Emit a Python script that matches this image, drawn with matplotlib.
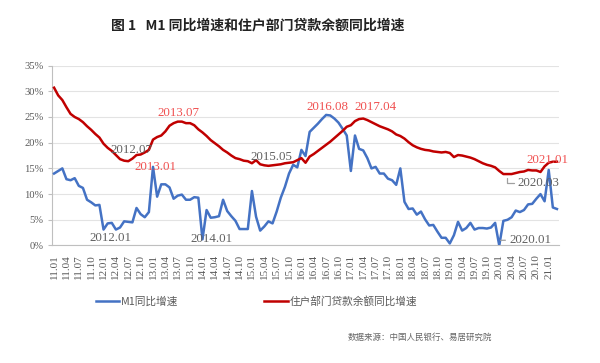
import matplotlib
matplotlib.use("Agg")
import matplotlib.pyplot as plt
from matplotlib.lines import Line2D

# monthly, 2011.01 - 2021.03
M1_YOY = [14.0, 14.5, 15.0, 12.9, 12.7, 13.1, 11.6, 11.2, 8.9, 8.4, 7.8, 7.9,
          3.1, 4.3, 4.4, 3.1, 3.5, 4.7, 4.6, 4.5, 7.3, 6.1, 5.5, 6.5,
          15.3, 9.5, 11.9, 11.9, 11.3, 9.1, 9.7, 9.9, 8.9, 8.9, 9.4, 9.3,
          1.2, 6.9, 5.4, 5.5, 5.7, 8.9, 6.7, 5.7, 4.8, 3.2, 3.2, 3.2,
          10.6, 5.6, 2.9, 3.7, 4.7, 4.3, 6.6, 9.3, 11.4, 14.0, 15.7, 15.2,
          18.6, 17.4, 22.1, 22.9, 23.7, 24.6, 25.4, 25.3, 24.7, 23.9, 22.7, 21.4,
          14.5, 21.4, 18.8, 18.5, 17.0, 15.0, 15.3, 14.0, 14.0, 13.0, 12.7, 11.8,
          15.0, 8.5, 7.1, 7.2, 6.0, 6.6, 5.1, 3.9, 4.0, 2.7, 1.5, 1.5,
          0.4, 2.0, 4.6, 2.9, 3.4, 4.4, 3.1, 3.4, 3.4, 3.3, 3.5, 4.4,
          0.0, 4.8, 5.0, 5.5, 6.8, 6.5, 6.9, 8.0, 8.1, 9.1, 10.0, 8.6,
          14.7, 7.4, 7.1]

HH_LOAN_YOY = [30.7, 29.2, 28.3, 26.9, 25.6, 25.0, 24.6, 24.0, 23.2, 22.5, 21.7, 21.0,
               19.8, 19.0, 18.4, 17.6, 16.8, 16.5, 16.4, 16.9, 17.6, 17.7, 18.1, 18.6,
               20.6, 21.1, 21.4, 22.2, 23.3, 23.8, 24.1, 24.1, 23.8, 23.8, 23.4, 22.6,
               22.0, 21.3, 20.5, 19.9, 19.3, 18.6, 18.1, 17.5, 17.0, 16.8, 16.5, 16.4,
               16.0, 16.6, 15.8, 15.6, 15.5, 15.6, 15.7, 15.8, 16.0, 16.1, 16.2, 16.6,
               17.0, 16.1, 17.3, 17.8, 18.4, 19.0, 19.6, 20.2, 20.9, 21.6, 22.3, 23.1,
               23.4, 24.2, 24.6, 24.7, 24.4, 24.0, 23.6, 23.2, 22.9, 22.6, 22.2, 21.6,
               21.3, 20.8, 20.1, 19.5, 19.1, 18.8, 18.6, 18.5, 18.3, 18.2, 18.1, 18.2,
               18.0, 17.2, 17.6, 17.5, 17.3, 17.1, 16.8, 16.4, 16.0, 15.7, 15.5, 15.2,
               14.5, 13.9, 13.9, 13.9, 14.1, 14.3, 14.4, 14.7, 14.6, 14.6, 14.3, 15.4,
               16.1, 16.3, 16.3]

MONTHS = [f"{y % 100:02d}.{m:02d}" for y in range(2011, 2022) for m in range(1, 13)][:len(M1_YOY)]
TICK_IDX = list(range(0, len(MONTHS), 3))

SERIES_NAMES = ["M1同比增速", "住户部门贷款余额同比增速"]
BLUE, RED = "#4472C4", "#C00000"
ANN_RED, ANN_GRAY = "#F05050", "#606060"

# (text, x, y, colour) -- label placement
NOTES = [("2012.01", 13.7, 1.5, ANN_GRAY), ("2012.07", 18.8, 18.5, ANN_GRAY),
         ("2013.01", 24.7, 15.3, ANN_RED), ("2013.07", 30.2, 25.7, ANN_RED),
         ("2014.01", 38.1, 1.2, ANN_GRAY), ("2015.05", 52.8, 17.3, ANN_GRAY),
         ("2016.08", 66.4, 26.9, ANN_RED), ("2017.04", 77.9, 26.9, ANN_RED),
         ("2021.01", 119.6, 16.6, ANN_RED)]

CJK = ["Noto Sans CJK SC", "DejaVu Sans"]
SERIF = "Liberation Serif"

fig = plt.figure(figsize=(6, 3.63), dpi=100)
ax = fig.add_axes([0.0867, 0.3237, 0.845, 0.4956])

x = list(range(len(MONTHS)))
ax.plot(x, M1_YOY, color=BLUE, lw=1.8, zorder=3)
ax.plot(x, HH_LOAN_YOY, color=RED, lw=1.8, zorder=3)

ax.set_xlim(-0.5, len(MONTHS) - 0.5)
ax.set_ylim(0, 35)
ax.set_yticks(range(0, 36, 5))
ax.set_yticklabels([f"{v}%" for v in range(0, 36, 5)], fontfamily=SERIF,
                   fontsize=7.6, color="#595959")
ax.set_xticks(TICK_IDX)
ax.set_xticklabels([MONTHS[i] for i in TICK_IDX], rotation=90, fontfamily=SERIF,
                   fontsize=8, color="#595959")
ax.tick_params(axis="x", length=0, pad=6)
ax.tick_params(axis="y", length=3, color="#BFBFBF", pad=3)
ax.grid(axis="y", color="#E3E3E3", lw=0.8)
ax.set_axisbelow(True)
ax.spines[["top", "right"]].set_visible(False)
for s in ("left", "bottom"):
    ax.spines[s].set_color("#BFBFBF")

for txt, tx, ty, c in NOTES:
    ax.text(tx, ty, txt, ha="center", va="center", fontfamily=SERIF,
            fontsize=9.3, color=c, zorder=4)

i03 = MONTHS.index("20.03")
ax.annotate("2020.03", xy=(i03, HH_LOAN_YOY[i03]), xytext=(112.5, 12.1),
            ha="left", va="center", fontfamily=SERIF, fontsize=9.3, color=ANN_GRAY,
            arrowprops=dict(arrowstyle="-", color="#A0A0A0", lw=0.9, shrinkA=1, shrinkB=3,
                            connectionstyle="angle,angleA=0,angleB=90,rad=0"))
i01 = MONTHS.index("20.01")
ax.annotate("2020.01", xy=(i01, M1_YOY[i01] + 1.0), xytext=(110.5, 1.1),
            ha="left", va="center", fontfamily=SERIF, fontsize=9.3, color=ANN_GRAY,
            arrowprops=dict(arrowstyle="-", color="#A0A0A0", lw=0.9, shrinkA=1, shrinkB=1))

fig.text(0.43, 0.931, "图 1   M1 同比增速和住户部门贷款余额同比增速", ha="center", va="center",
         fontfamily=CJK, fontsize=10, fontweight="bold", color="#222222")

handles = [Line2D([], [], color=BLUE, lw=1.8), Line2D([], [], color=RED, lw=1.8)]
fig.legend(handles, SERIES_NAMES, loc="center", bbox_to_anchor=(0.4275, 0.171), ncol=2,
           frameon=False, prop={"family": CJK, "size": 7.7}, labelcolor="#595959",
           handlelength=2.2, handletextpad=0.2, columnspacing=8.0)

fig.text(0.82, 0.072, "数据来源：中国人民银行、易居研究院", ha="right", va="center",
         fontfamily=CJK, fontsize=6.1, color="#666666")

fig.savefig("out.png", dpi=100)
